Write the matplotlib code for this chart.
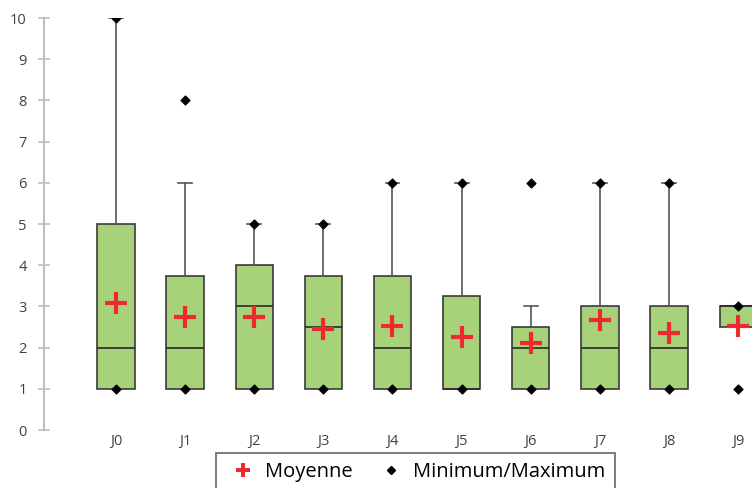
import matplotlib.pyplot as plt
from matplotlib.lines import Line2D

plt.rcParams['font.family'] = ['Open Sans', 'DejaVu Sans']

# summary values
days = ['J0', 'J1', 'J2', 'J3', 'J4', 'J5', 'J6', 'J7', 'J8', 'J9']
q1 = [1, 1, 1, 1, 1, 1, 1, 1, 1, 2.5]
median = [2, 2, 3, 2.5, 2, 1, 2, 2, 2, 3]
q3 = [5, 3.75, 4, 3.75, 3.75, 3.25, 2.5, 3, 3, 3]
whisker_low = [1, 1, 1, 1, 1, 1, 1, 1, 1, 2.5]
whisker_high = [10, 6, 5, 5, 6, 6, 3, 6, 6, 3]
means = [3.08, 2.75, 2.75, 2.45, 2.52, 2.25, 2.1, 2.68, 2.35, 2.52]
minimum = [1, 1, 1, 1, 1, 1, 1, 1, 1, 1]
maximum = [10, 8, 5, 5, 6, 6, 6, 6, 6, 3]

stats = []
for i, d in enumerate(days):
    stats.append({'label': d, 'q1': q1[i], 'med': median[i], 'q3': q3[i],
                  'whislo': whisker_low[i], 'whishi': whisker_high[i],
                  'mean': means[i], 'fliers': []})

fig = plt.figure(figsize=(7.52, 4.88), dpi=100)
ax = fig.add_axes([44 / 752, 1 - 430 / 488, 1 - 44 / 752, 412 / 488])

pos = list(range(len(days)))
ax.bxp(stats, positions=pos, widths=0.54, patch_artist=True, showmeans=False,
       showcaps=True,
       boxprops=dict(facecolor='#a8d27a', edgecolor='#3a3a3a', linewidth=1.2),
       medianprops=dict(color='#2a2a2a', linewidth=1.2),
       whiskerprops=dict(color='#555555', linewidth=1.2),
       capprops=dict(color='#555555', linewidth=1.2),
       capwidths=0.2)

ax.scatter(pos, means, marker='+', s=260, color='#ee2a30', linewidths=3, zorder=5)
ax.scatter(pos, minimum, marker='D', s=20, color='black', zorder=6)
ax.scatter(pos, maximum, marker='D', s=20, color='black', zorder=6)

ax.set_xlim(-1.04, 9.2)
ax.set_ylim(0, 10)
ax.set_yticks(range(0, 11))
ax.set_xticks(pos)
ax.set_xticklabels(days)

for s in ['top', 'right', 'bottom']:
    ax.spines[s].set_visible(False)
ax.spines['left'].set_color('#bfbfbf')
ax.spines['left'].set_linewidth(1.5)
ax.tick_params(axis='y', direction='inout', length=9, width=1.2, color='#bfbfbf',
               labelsize=10.5, labelcolor='#404040', pad=8)
ax.tick_params(axis='x', length=0, labelsize=10.5, labelcolor='#404040', pad=3)

handles = [Line2D([], [], linestyle='none', marker='P', color='#ee2a30', markersize=10, markeredgewidth=0),
           Line2D([], [], linestyle='none', marker='D', color='black', markersize=4.5)]
leg = fig.legend(handles, ['Moyenne', 'Minimum/Maximum'], ncol=2, fontsize=14.5,
                 loc='upper left', bbox_to_anchor=(216 / 752, 1 - 453 / 488),
                 frameon=True, fancybox=False, edgecolor='#404040',
                 handletextpad=0.2, columnspacing=1.0, borderpad=0.45,
                 handlelength=1.8, borderaxespad=0)
leg.get_frame().set_linewidth(1.2)

fig.savefig('out.png', dpi=100)
